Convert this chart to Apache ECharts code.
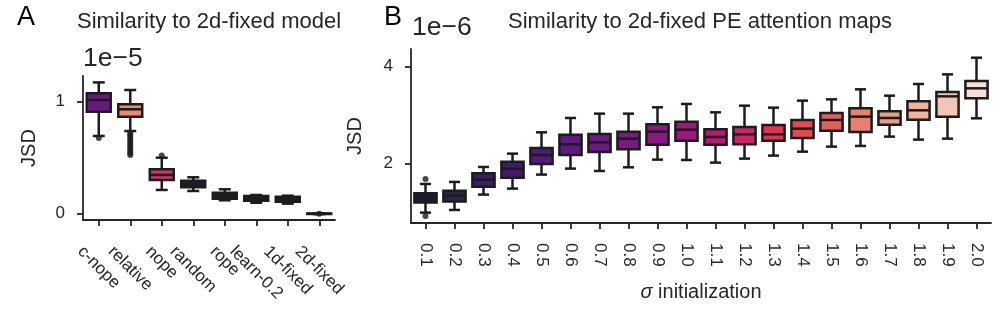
<!DOCTYPE html>
<html><head><meta charset="utf-8">
<script src="https://cdn.jsdelivr.net/npm/echarts@6/dist/echarts.min.js"></script>
<style>html,body{margin:0;padding:0;background:#fff}#c{width:1000px;height:311px}</style>
</head><body><div id="c"></div>
<script>
// ---------- Panel A: Similarity to 2d-fixed model (values in units of 1e-5) ----------
const catsA = ['c-nope', 'relative', 'nope', 'random', 'rope', 'learn-0.2', '1d-fixed', '2d-fixed'];
const loA  = [0.694, 0.738, 0.212, 0.203, 0.120, 0.098, 0.090, -0.004];
const q1A  = [0.911, 0.866, 0.301, 0.236, 0.134, 0.116, 0.107, -0.002];
const medA = [1.015, 0.932, 0.346, 0.265, 0.161, 0.137, 0.129, 0.000];
const q3A  = [1.075, 0.977, 0.396, 0.295, 0.188, 0.158, 0.152, 0.002];
const hiA  = [1.172, 1.104, 0.500, 0.325, 0.218, 0.167, 0.161, 0.004];
const flierCatA = [0, 1, 1, 1, 1, 1, 1, 1, 1, 1, 1, 1, 2, 7];
const flierValA = [0.676, 0.718, 0.70, 0.68, 0.66, 0.64, 0.62, 0.60, 0.58, 0.56, 0.54, 0.524, 0.52, 0.0];
const colorsA = ['#6a1880', '#ee8a72', '#d3306a', '#231a2e', '#231a2e', '#231a2e', '#231a2e', '#231a2e'];
const ticksA = [0, 1];
const offsetA = '1e\u22125';

// ---------- Panel B: Similarity to 2d-fixed PE attention maps (values in units of 1e-6) ----------
const catsB = ['0.1','0.2','0.3','0.4','0.5','0.6','0.7','0.8','0.9','1.0','1.1','1.2','1.3','1.4','1.5','1.6','1.7','1.8','1.9','2.0'];
const loB  = [0.979, 1.034, 1.352, 1.476, 1.766, 1.890, 1.841, 1.917, 2.076, 2.069, 2.014, 2.097, 2.159, 2.241, 2.345, 2.359, 2.552, 2.490, 2.510, 2.931];
const q1B  = [1.186, 1.207, 1.517, 1.703, 1.986, 2.172, 2.234, 2.290, 2.386, 2.469, 2.386, 2.393, 2.469, 2.524, 2.676, 2.648, 2.800, 2.903, 2.966, 3.345];
const medB = [1.276, 1.331, 1.662, 1.883, 2.172, 2.393, 2.434, 2.510, 2.655, 2.697, 2.545, 2.600, 2.600, 2.717, 2.897, 2.966, 2.938, 3.097, 3.386, 3.552];
const q3B  = [1.379, 1.434, 1.793, 2.034, 2.317, 2.593, 2.607, 2.655, 2.807, 2.862, 2.703, 2.752, 2.793, 2.897, 3.041, 3.138, 3.076, 3.283, 3.476, 3.703];
const hiB  = [1.572, 1.614, 1.924, 2.200, 2.641, 2.938, 3.028, 3.028, 3.159, 3.228, 3.055, 3.193, 3.152, 3.297, 3.324, 3.531, 3.400, 3.641, 3.841, 4.186];
const flierCatB = [0, 0];
const flierValB = [1.676, 0.910];
const colorsB = ['#1d1a33', '#29234d', '#3a1f66', '#45186f', '#521a79', '#5e1a80', '#6a1a82', '#781a82', '#8a1983', '#a0157e',
                 '#b81a73', '#cc2465', '#dc3556', '#e04a52', '#e3605a', '#e97f72', '#ed9b86', '#f0b19e', '#f2c6b5', '#f8e0d6'];
const ticksB = [2, 4];
const offsetB = '1e\u22126';

const EDGE = '#1c1c1c';
const AX = '#262626';
const LW = 2.5;
const FONT = '"Liberation Sans", Arial, sans-serif';
const TICKFS = 17;

const chart = echarts.init(document.getElementById('c'), null, {renderer: 'canvas'});

function boxData(lo, q1, md, q3, hi) {
  return lo.map((v, i) => [i, v, q1[i], md[i], q3[i], hi[i]]);
}
function makeRender(colors, frac) {
  return function (params, api) {
    const i = api.value(0);
    const lo = api.coord([i, api.value(1)]);
    const q1 = api.coord([i, api.value(2)]);
    const md = api.coord([i, api.value(3)]);
    const q3 = api.coord([i, api.value(4)]);
    const hi = api.coord([i, api.value(5)]);
    const bw = api.size([1, 0])[0] * frac;
    const x = md[0];
    const ln = {stroke: EDGE, lineWidth: LW};
    return {type: 'group', children: [
      {type: 'line', shape: {x1: x, y1: hi[1], x2: x, y2: q3[1]}, style: ln},
      {type: 'line', shape: {x1: x, y1: q1[1], x2: x, y2: lo[1]}, style: ln},
      {type: 'line', shape: {x1: x - bw / 4, y1: hi[1], x2: x + bw / 4, y2: hi[1]}, style: ln},
      {type: 'line', shape: {x1: x - bw / 4, y1: lo[1], x2: x + bw / 4, y2: lo[1]}, style: ln},
      {type: 'rect', shape: {x: x - bw / 2, y: q3[1], width: bw, height: Math.max(q1[1] - q3[1], 0.5)},
        style: {fill: colors[params.dataIndex], stroke: EDGE, lineWidth: LW}},
      {type: 'line', shape: {x1: x - bw / 2, y1: md[1], x2: x + bw / 2, y2: md[1]}, style: ln}
    ]};
  };
}

// rotated (-45deg) category labels centred under ticks, like matplotlib ha=center / va=top
const cv = document.createElement('canvas').getContext('2d');
cv.font = TICKFS + 'px ' + FONT;
const labelTop = 243, axisYA = 220, marginA = 8;
const catItemsA = catsA.map(c => {
  const L = cv.measureText(c).width;
  const H = TICKFS;
  const centerY = labelTop + (L + H) / (2 * Math.SQRT2);
  const D = centerY - (axisYA + marginA);
  const p = Math.max(H, Math.SQRT2 * D);
  return {value: c, textStyle: {align: 'center', verticalAlign: 'top', lineHeight: p, padding: [0, 0, 0, p]}};
});

const axisLineStyle = {show: true, onZero: false, lineStyle: {color: AX, width: 1.8}};
const axisTickStyle = {show: true, length: 6, lineStyle: {color: AX, width: 1.8}};
const labelBase = {color: AX, fontSize: TICKFS, fontFamily: FONT};

const option = {
  animation: false,
  backgroundColor: '#ffffff',
  grid: [
    {left: 83, top: 76, width: 252, height: 144, outerBoundsMode: 'none', containLabel: false},
    {left: 411, top: 49, width: 580, height: 174, outerBoundsMode: 'none', containLabel: false}
  ],
  xAxis: [
    {type: 'category', gridIndex: 0, data: catItemsA, boundaryGap: true,
      axisLine: axisLineStyle, axisTick: Object.assign({alignWithLabel: true}, axisTickStyle),
      axisLabel: Object.assign({interval: 0, rotate: -45, margin: marginA}, labelBase),
      splitLine: {show: false}},
    {type: 'category', gridIndex: 1, data: catsB, boundaryGap: true,
      axisLine: axisLineStyle, axisTick: Object.assign({alignWithLabel: true}, axisTickStyle),
      axisLabel: Object.assign({interval: 0, rotate: -90, margin: 20}, labelBase),
      name: '{s|\u03c3} initialization', nameLocation: 'middle', nameGap: 59, nameMoveOverlap: false,
      nameTextStyle: {color: AX, fontSize: 20, fontFamily: FONT, rich: {s: {fontStyle: 'italic', fontSize: 20, fontFamily: FONT, color: AX}}},
      splitLine: {show: false}}
  ],
  yAxis: [
    {type: 'value', gridIndex: 0, min: -0.056, max: 1.229,
      axisLine: axisLineStyle, axisTick: Object.assign({customValues: ticksA}, axisTickStyle),
      axisLabel: Object.assign({customValues: ticksA, margin: 18}, labelBase),
      name: 'JSD', nameLocation: 'middle', nameGap: 44, nameRotate: 90, nameMoveOverlap: false,
      nameTextStyle: {color: AX, fontSize: 20, fontFamily: FONT},
      splitLine: {show: false}},
    {type: 'value', gridIndex: 1, min: 0.764, max: 4.366,
      axisLine: axisLineStyle, axisTick: Object.assign({customValues: ticksB}, axisTickStyle),
      axisLabel: Object.assign({customValues: ticksB, margin: 18}, labelBase),
      name: 'JSD', nameLocation: 'middle', nameGap: 46, nameRotate: 90, nameMoveOverlap: false,
      nameTextStyle: {color: AX, fontSize: 20, fontFamily: FONT},
      splitLine: {show: false}}
  ],
  series: [
    {type: 'custom', xAxisIndex: 0, yAxisIndex: 0, renderItem: makeRender(colorsA, 0.76),
      encode: {x: 0, y: [1, 2, 3, 4, 5]}, data: boxData(loA, q1A, medA, q3A, hiA), z: 3},
    {type: 'scatter', xAxisIndex: 0, yAxisIndex: 0, symbol: 'circle', symbolSize: 6,
      itemStyle: {color: EDGE}, data: flierCatA.map((c, i) => [c, flierValA[i]]), z: 2},
    {type: 'custom', xAxisIndex: 1, yAxisIndex: 1, renderItem: makeRender(colorsB, 0.765),
      encode: {x: 0, y: [1, 2, 3, 4, 5]}, data: boxData(loB, q1B, medB, q3B, hiB), z: 3},
    {type: 'scatter', xAxisIndex: 1, yAxisIndex: 1, symbol: 'circle', symbolSize: 6,
      itemStyle: {color: EDGE}, data: flierCatB.map((c, i) => [c, flierValB[i]]), z: 2}
  ],
  graphic: [
    {type: 'text', left: 17, top: 4, style: {text: 'A', fontSize: 27, fontFamily: FONT, fill: '#000'}},
    {type: 'text', left: 384, top: 4, style: {text: 'B', fontSize: 27, fontFamily: FONT, fill: '#000'}},
    {type: 'text', x: 209, y: 22, style: {text: 'Similarity to 2d-fixed model', fontSize: 22, fontFamily: FONT, fill: AX, align: 'center', verticalAlign: 'middle'}},
    {type: 'text', x: 700, y: 22, style: {text: 'Similarity to 2d-fixed PE attention maps', fontSize: 22, fontFamily: FONT, fill: AX, align: 'center', verticalAlign: 'middle'}},
    {type: 'text', x: 83, y: 59, style: {text: offsetA, fontSize: 26.5, fontFamily: FONT, fill: AX, align: 'left', verticalAlign: 'middle'}},
    {type: 'text', x: 412, y: 28, style: {text: offsetB, fontSize: 26.5, fontFamily: FONT, fill: AX, align: 'left', verticalAlign: 'middle'}}
  ]
};
chart.setOption(option);
</script>
</body></html>
